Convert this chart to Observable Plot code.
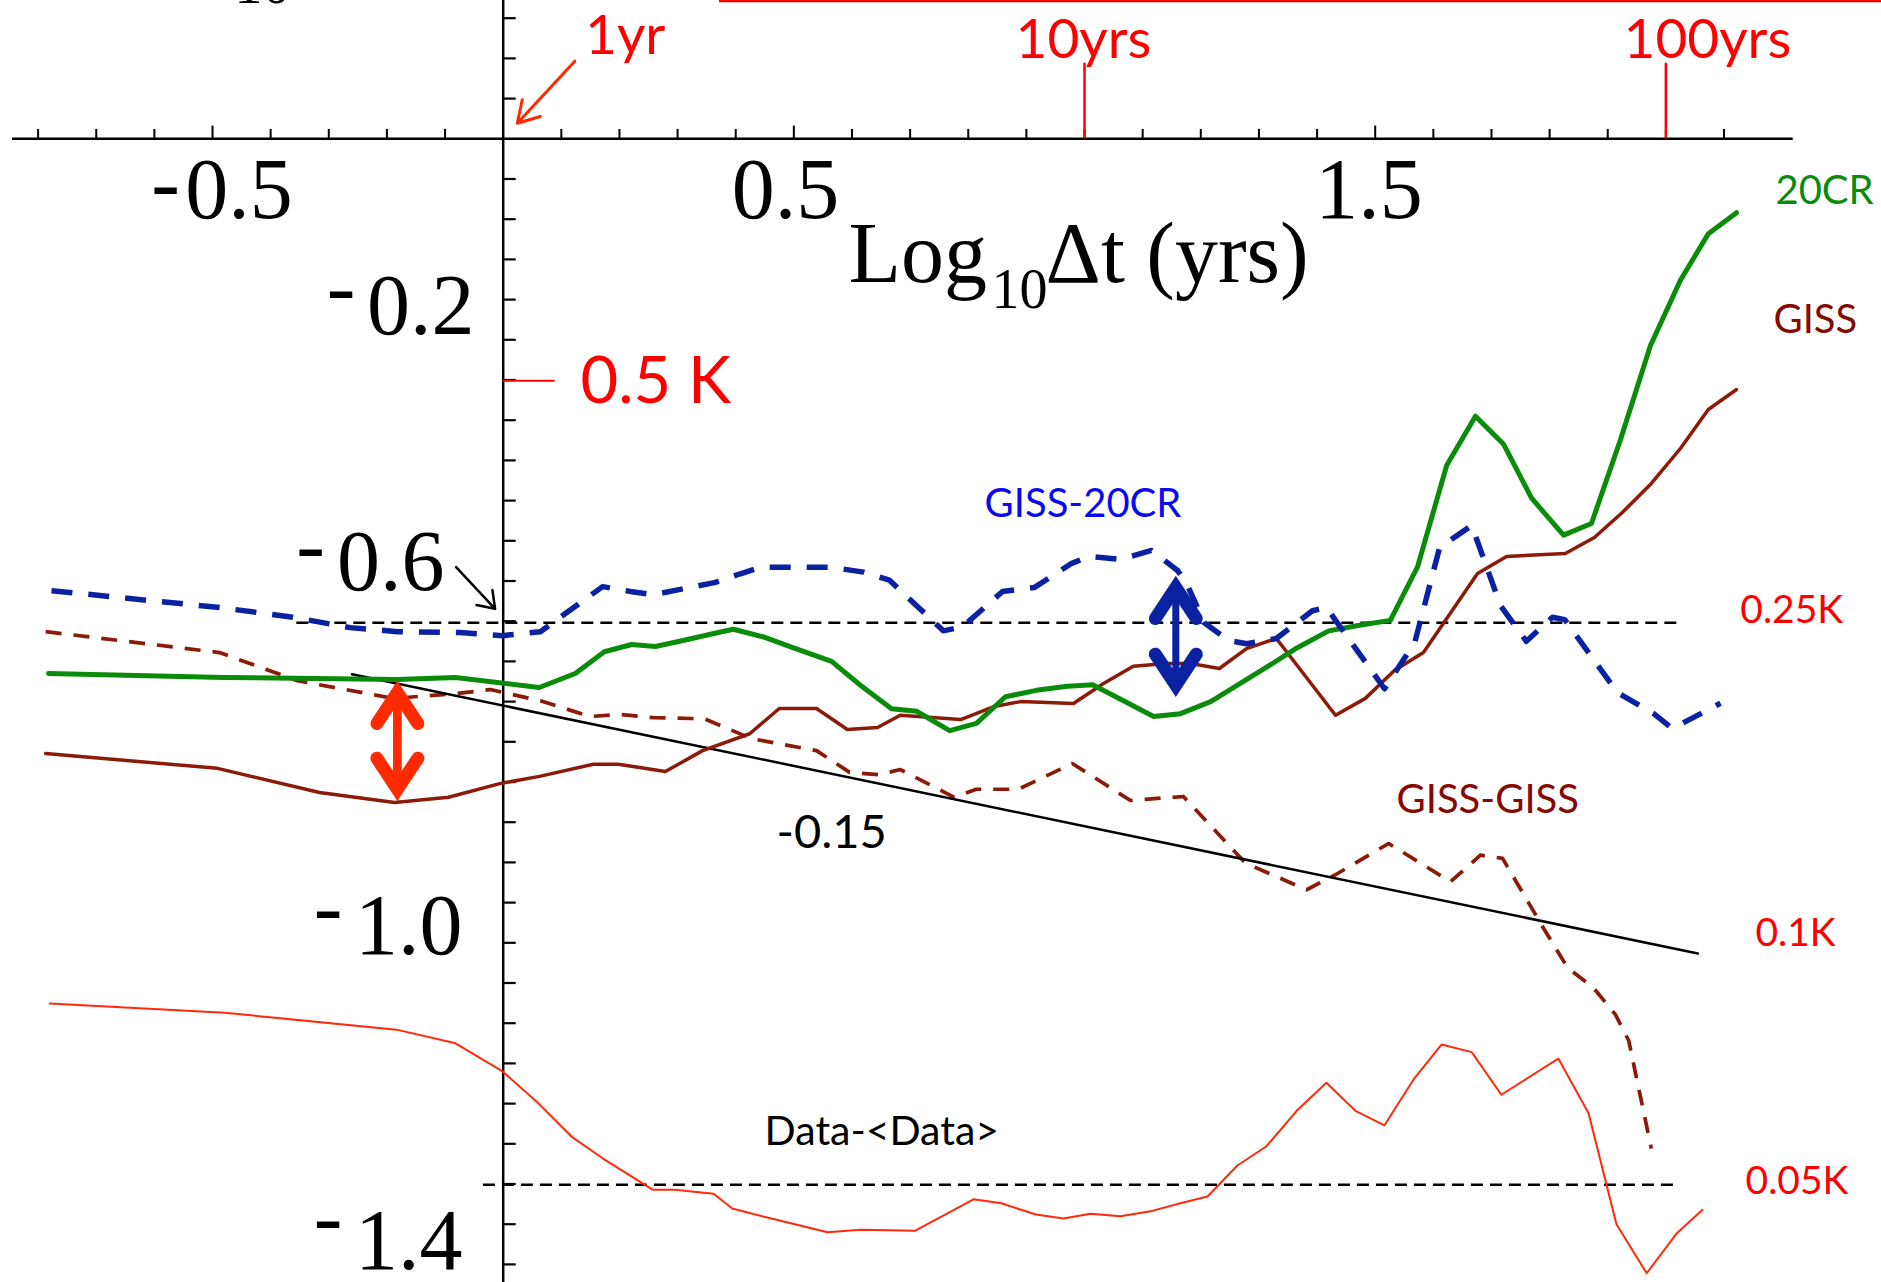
<!DOCTYPE html>
<html>
<head>
<meta charset="utf-8">
<script src="https://cdn.jsdelivr.net/npm/d3@7"></script>
<script src="https://cdn.jsdelivr.net/npm/@observablehq/plot@0.6"></script>
<style>
  html, body { margin: 0; padding: 0; background: #fff; overflow: hidden; }
  #chart svg { display: block; }
</style>
</head>
<body>
<div id="chart"></div>
<script>
// Haar fluctuations of global temperature: log10 of the lag Δt (years)
// against log10 of the fluctuation amplitude (K).

// ---------- series: [log10 Δt, log10 fluctuation] ----------
const series20CR = [
  [-0.782,-0.665],[-0.48,-0.670],[-0.182,-0.6725],[-0.082,-0.670],[0.062,-0.6825],
  [0.124,-0.665],[0.174,-0.638],[0.221,-0.629],[0.262,-0.6315],[0.315,-0.623],
  [0.370,-0.614],[0.396,-0.610],[0.450,-0.620],[0.503,-0.634],[0.565,-0.650],
  [0.615,-0.680],[0.668,-0.709],[0.711,-0.712],[0.768,-0.736],[0.814,-0.727],
  [0.864,-0.694],[0.917,-0.686],[0.971,-0.681],[1.014,-0.679],[1.119,-0.7185],
  [1.165,-0.715],[1.217,-0.700],[1.316,-0.656],[1.366,-0.633],[1.420,-0.612],
  [1.473,-0.605],[1.526,-0.599],[1.573,-0.532],[1.623,-0.406],[1.6725,-0.345],
  [1.721,-0.380],[1.769,-0.447],[1.824,-0.493],[1.872,-0.4785],[1.922,-0.374],
  [1.9735,-0.257],[2.025,-0.176],[2.073,-0.118],[2.1215,-0.092]
];

const seriesGISS = [
  [-0.787,-0.7646],[-0.4915,-0.783],[-0.316,-0.813],[-0.187,-0.8255],[-0.094,-0.819],
  [-0.006,-0.802],[0.0624,-0.793],[0.155,-0.778],[0.198,-0.778],[0.243,-0.783],
  [0.279,-0.787],[0.343,-0.761],[0.424,-0.740],[0.475,-0.7086],[0.539,-0.7086],
  [0.592,-0.7347],[0.644,-0.7322],[0.683,-0.717],[0.787,-0.7223],[0.845,-0.706],
  [0.890,-0.700],[0.981,-0.7024],[1.0326,-0.6775],[1.084,-0.656],[1.141,-0.6526],
  [1.182,-0.6526],[1.232,-0.6588],[1.2786,-0.634],[1.330,-0.6215],[1.4317,-0.717],
  [1.483,-0.696],[1.533,-0.6613],[1.583,-0.639],[1.676,-0.5407],[1.726,-0.5195],
  [1.827,-0.5158],[1.877,-0.4959],[1.925,-0.4648],[1.975,-0.4287],[2.025,-0.3852],
  [2.073,-0.3367],[2.1215,-0.3118]
];

const seriesGISSminus20CR = [
  [-0.777,-0.562],[-0.488,-0.583],[-0.362,-0.595],[-0.263,-0.608],[-0.182,-0.613],
  [-0.075,-0.614],[-0.001,-0.618],[0.064,-0.613],[0.171,-0.557],[0.219,-0.563],
  [0.2585,-0.567],[0.3635,-0.552],[0.408,-0.541],[0.443,-0.533],[0.565,-0.533],
  [0.620,-0.539],[0.6645,-0.549],[0.757,-0.612],[0.790,-0.607],[0.859,-0.563],
  [0.914,-0.558],[0.978,-0.528],[1.0085,-0.5195],[1.062,-0.523],[1.115,-0.512],
  [1.160,-0.537],[1.175,-0.552],[1.206,-0.602],[1.248,-0.624],[1.279,-0.628],
  [1.330,-0.6215],[1.392,-0.587],[1.416,-0.583],[1.516,-0.684],[1.568,-0.6265],
  [1.611,-0.508],[1.666,-0.481],[1.7155,-0.5805],[1.760,-0.625],[1.805,-0.595],
  [1.826,-0.598],[1.917,-0.689],[1.979,-0.715],[2.011,-0.7335],[2.094,-0.702]
];

const seriesGISSminusGISS = [
  [-0.787,-0.613],[-0.488,-0.639],[-0.354,-0.674],[-0.189,-0.696],[-0.080,-0.690],
  [-0.022,-0.685],[0.064,-0.699],[0.150,-0.7185],[0.202,-0.716],[0.2585,-0.720],
  [0.324,-0.721],[0.348,-0.722],[0.427,-0.746],[0.539,-0.761],[0.596,-0.788],
  [0.646,-0.791],[0.683,-0.7845],[0.776,-0.819],[0.814,-0.809],[0.886,-0.809],
  [0.979,-0.777],[1.079,-0.823],[1.170,-0.818],[1.277,-0.901],[1.382,-0.934],
  [1.430,-0.916],[1.523,-0.8765],[1.6295,-0.924],[1.681,-0.891],[1.719,-0.895],
  [1.788,-0.980],[1.831,-1.031],[1.8755,-1.056],[1.913,-1.089],[1.936,-1.1215],
  [1.975,-1.256]
];

const seriesDataAnomaly = [
  [-0.780,-1.0755],[-0.479,-1.087],[-0.1835,-1.108],[-0.082,-1.125],[-0.001,-1.160],
  [0.061,-1.200],[0.1175,-1.241],[0.171,-1.268],[0.257,-1.307],[0.295,-1.307],
  [0.362,-1.312],[0.394,-1.3305],[0.456,-1.342],[0.558,-1.360],[0.615,-1.357],
  [0.709,-1.358],[0.809,-1.319],[0.857,-1.324],[0.916,-1.338],[0.964,-1.343],
  [1.010,-1.337],[1.062,-1.340],[1.113,-1.334],[1.165,-1.324],[1.2115,-1.3155],
  [1.263,-1.277],[1.313,-1.253],[1.365,-1.209],[1.416,-1.174],[1.466,-1.209],
  [1.516,-1.227],[1.566,-1.170],[1.614,-1.1265],[1.666,-1.136],[1.717,-1.189],
  [1.815,-1.144],[1.867,-1.212],[1.915,-1.350],[1.967,-1.411],[2.018,-1.362],
  [2.063,-1.332]
];

// reference power law, slope -0.15
const slopeFit = {slope: -0.15, intercept: -0.705, from: -0.26, to: 2.055};

// reference amplitudes (K)
const levelLabels = ["0.25K", "0.1K", "0.05K"];
const levelValues = [0.25, 0.1, 0.05];
const dashedLevels = [0.25, 0.05];
const halfKelvin = 0.5;

// lag marks (years)
const lagYears = [10, 100];
const lagLabels = ["10yrs", "100yrs"];

// tick labels
const xTickLabelValues = [-0.5, 0.5, 1.5];
const yTickLabelValues = [-0.2, -0.6, -1.0, -1.4];

// spread between two curves at a given lag
const spreadRed = {x: -0.182, top: -0.6738, bottom: -0.8239};
const spreadBlue = {x: 1.157, top: -0.5432, bottom: -0.6945};

// ---------- styling / layout ----------
const RED = "#ff0000";
const ARROW_RED = "#ff2a00";
const GREEN = "#0a8c0a";
const MAROON = "#8c1a08";
const MAROON_TEXT = "#860800";
const NAVY = "#0a22a2";
const BLUE_TEXT = "#0a0aee";
const DATA_RED = "#ff2a0a";
const SANS = "Lato, 'Open Sans', sans-serif";
const SERIF = "'Liberation Serif', 'DejaVu Serif', serif";

const xFrame = [-0.8647, 2.3709];
const yFrame = [-1.4225, 0.1720];

const xTicks = d3.range(-8, 22).filter(i => i !== 0).map(i => i / 10);
const xMajor = new Set([-5, 5, 15]);
const yTicks = d3.range(-28, 4).filter(i => i !== 0).map(i => i / 20);

const line = (data, opts) => Plot.line(data, {x: d => d[0], y: d => d[1], curve: "linear", ...opts});
const label = (text, x, y, opts) =>
  Plot.text([text], {x: () => x, y: () => y, text: d => d, lineAnchor: "bottom", textAnchor: "start", fontFamily: SANS, ...opts});

// arrowhead outlines, tip at the origin
const headUp = {draw(ctx) { ctx.moveTo(-20.5, 43); ctx.lineTo(0, 12); ctx.lineTo(20.5, 43); }};
const headDown = {draw(ctx) { ctx.moveTo(-20.5, -43); ctx.lineTo(0, -12); ctx.lineTo(20.5, -43); }};

function spreadArrow(s, color, shaftWidth) {
  const head = {fill: "none", stroke: color, strokeWidth: 13, r: 10,
    strokeLinecap: "round", strokeLinejoin: "miter", strokeMiterlimit: 8};
  return [
    Plot.ruleX([s], {x: "x", y1: "top", y2: "bottom", stroke: color, strokeWidth: shaftWidth, insetTop: 12, insetBottom: 12}),
    Plot.dot([s], {x: "x", y: "top", symbol: headUp, ...head}),
    Plot.dot([s], {x: "x", y: "bottom", symbol: headDown, ...head})
  ];
}

const slopeEnds = [slopeFit.from, slopeFit.to].map(x => ({x, y: slopeFit.intercept + slopeFit.slope * x}));

// y tick label placement (px offsets from the tick) and the detached minus signs
const yLabelOffsets = [
  {dx: -28.7, dy: 34, mdx: -162.2, mdy: 15.1},
  {dx: -58.7, dy: -30.7, mdx: -192.7, mdy: -48.5},
  {dx: -40.7, dy: 10.7, mdx: -175.1, mdy: -8.1},
  {dx: -40.7, dy: 4.1, mdx: -175.2, mdy: -19.2}
];
const xLabelOffsets = [26.5, -8.4, -6.1];

const yTickLabelMarks = yTickLabelValues.flatMap((v, i) => {
  const o = yLabelOffsets[i];
  const s = v.toFixed(1);
  return [
    Plot.text([v], {x: 0, y: d => d, text: () => s.slice(1), dx: o.dx, dy: o.dy, textAnchor: "end", lineAnchor: "bottom", fontFamily: SERIF, fontSize: 86}),
    Plot.text([v], {x: 0, y: d => d, text: () => "-", dx: o.mdx, dy: o.mdy, textAnchor: "middle", lineAnchor: "bottom", fontFamily: SERIF, fontSize: 86})
  ];
});

const xTickLabelMarks = xTickLabelValues.flatMap((v, i) => {
  const s = v.toFixed(1);
  const marks = [Plot.text([v], {x: d => d, y: 0, text: () => s.replace("-", ""), dx: xLabelOffsets[i], dy: 79.7, textAnchor: "middle", lineAnchor: "bottom", fontFamily: SERIF, fontSize: 86})];
  if (v < 0) marks.push(Plot.text([v], {x: d => d, y: 0, text: () => "-", dx: -47, dy: 71.9, textAnchor: "middle", lineAnchor: "bottom", fontFamily: SERIF, fontSize: 86}));
  return marks;
});

const levelLabelLayout = [{x: 2.128, dy: 0.6}, {x: 2.154, dy: 2.7}, {x: 2.137, dy: 8.7}];
const lagLabelLayout = [{dx: -69}, {dx: -42.4}];

const chart = Plot.plot({
  width: 1881,
  height: 1282,
  marginTop: 0, marginRight: 0, marginBottom: 0, marginLeft: 0,
  x: {domain: xFrame, axis: null},
  y: {domain: yFrame, axis: null},
  style: {background: "#fff"},
  marks: [
    // axes through the origin
    Plot.ruleY([0], {x1: -0.844, x2: 2.219, stroke: "black", strokeWidth: 2.5}),
    Plot.ruleX([0], {stroke: "black", strokeWidth: 2.5}),
    Plot.ruleX(xTicks, {x: d => d, y1: 0, y2: d => xMajor.has(Math.round(d * 10)) ? 0.0158 : 0.0116, stroke: "black", strokeWidth: 2}),
    Plot.ruleY(yTicks, {y: d => d, x1: 0, x2: 0.0224, stroke: "black", strokeWidth: 2.2}),

    // lag marks and the red rule along the top
    Plot.ruleX(lagYears, {x: d => Math.log10(d), y1: 0, y2: 0.094, stroke: RED, strokeWidth: 2.5}),
    Plot.ruleY([0.1714], {x1: 0.372, x2: xFrame[1], stroke: RED, strokeWidth: 2.5}),
    Plot.ruleY([halfKelvin], {y: d => Math.log10(d), x1: 0, x2: 0.0894, stroke: RED, strokeWidth: 2}),

    // reference amplitudes
    Plot.ruleY(dashedLevels, {y: d => Math.log10(d), x1: d => d === 0.25 ? -0.355 : -0.034, x2: d => d === 0.25 ? 2.027 : 2.022,
      stroke: "black", strokeWidth: 2.5, strokeDasharray: "12,7"}),

    // fluctuation curves
    line(seriesDataAnomaly, {stroke: DATA_RED, strokeWidth: 2}),
    line(seriesGISSminusGISS, {stroke: MAROON, strokeWidth: 3.7, strokeDasharray: "16,12", strokeLinecap: "butt"}),
    Plot.line(slopeEnds, {x: "x", y: "y", stroke: "black", strokeWidth: 2.5}),
    line(seriesGISS, {stroke: MAROON, strokeWidth: 3.5}),
    line(series20CR, {stroke: GREEN, strokeWidth: 5}),
    line(seriesGISSminus20CR, {stroke: NAVY, strokeWidth: 5.5, strokeDasharray: "21,16", strokeLinecap: "butt"}),

    // spreads between curves
    ...spreadArrow(spreadRed, ARROW_RED, 8.7),
    ...spreadArrow(spreadBlue, NAVY, 7),

    // pointers
    Plot.arrow([{x1: 0.1232, y1: 0.0965, x2: 0.0243, y2: 0.0194}], {x1: "x1", y1: "y1", x2: "x2", y2: "y2",
      stroke: ARROW_RED, strokeWidth: 3, headLength: 12, headAngle: 62, strokeLinecap: "round", strokeLinejoin: "round"}),
    Plot.arrow([{x1: -0.081, y1: -0.5328, x2: -0.0139, y2: -0.5846}], {x1: "x1", y1: "y1", x2: "x2", y2: "y2",
      stroke: "black", strokeWidth: 2.5, headLength: 13.2, headAngle: 70, strokeLinecap: "round", strokeLinejoin: "round"}),

    // axis title
    label("Log", 0.594, -0.1787, {fontFamily: SERIF, fontSize: 86}),
    label("10", 0.840, -0.211, {fontFamily: SERIF, fontSize: 56}),
    label("Δt (yrs)", 0.933, -0.1787, {fontFamily: SERIF, fontSize: 86}),
    label("10", -0.462, 0.1683, {fontFamily: SERIF, fontSize: 56}),

    ...xTickLabelMarks,
    ...yTickLabelMarks,

    // lag labels
    ...lagYears.map((yr, i) => Plot.text([yr], {x: d => Math.log10(d), y: 0.1011, text: () => lagLabels[i], dx: lagLabelLayout[i].dx,
      textAnchor: "start", lineAnchor: "bottom", fontFamily: SANS, fontSize: 55, fill: RED})),
    label("1yr", 0.1407, 0.1057, {fontSize: 55, fill: RED}),
    label("0.5 K", 0.133, -0.328, {fontSize: 65, fill: RED}),

    // amplitude labels on the right
    ...levelValues.map((k, i) => Plot.text([k], {x: () => levelLabelLayout[i].x, y: d => Math.log10(d), text: () => levelLabels[i],
      dy: levelLabelLayout[i].dy, textAnchor: "start", lineAnchor: "bottom", fontFamily: SANS, fontSize: 39, fill: RED})),

    // curve labels
    label("20CR", 2.1885, -0.0805, {fontSize: 40, fill: GREEN}),
    label("GISS", 2.185, -0.241, {fontSize: 40, fill: MAROON_TEXT}),
    label("GISS-20CR", 0.828, -0.471, {fontSize: 40, fill: BLUE_TEXT}),
    label("GISS-GISS", 1.5366, -0.839, {fontSize: 40, fill: MAROON_TEXT}),
    label(slopeFit.slope.toFixed(2), 0.470, -0.8815, {fontSize: 47, fill: "black"}),
    label("Data-<Data>", 0.4497, -1.252, {fontSize: 41, fill: "black"})
  ]
});

document.getElementById("chart").append(chart);
</script>
</body>
</html>
